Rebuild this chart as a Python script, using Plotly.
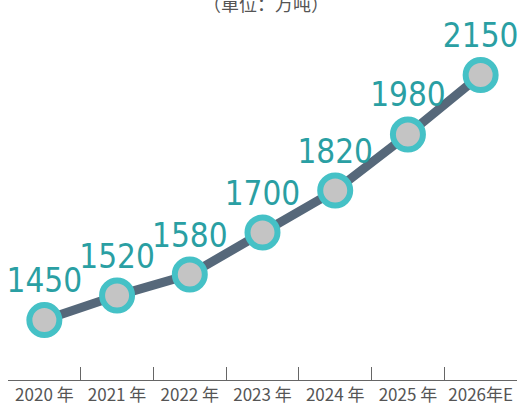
import plotly.graph_objects as go

years = ["2020 年", "2021 年", "2022 年", "2023 年", "2024 年", "2025 年", "2026年E"]
values = [1450, 1520, 1580, 1700, 1820, 1980, 2150]
labels = [str(v) for v in values]

fig = go.Figure()
fig.add_trace(go.Scatter(
    x=years, y=values, mode="lines+markers+text",
    text=labels, textposition="top center",
    textfont=dict(family="DejaVu Sans Condensed, Liberation Sans Narrow, sans-serif", size=33, color="#2a9fa3"),
    line=dict(color="#56687a", width=9),
    marker=dict(size=30, color="#c4c4c4", line=dict(color="#45c1c6", width=6)),
    cliponaxis=False, showlegend=False, hoverinfo="skip",
))

fig.update_layout(
    width=530, height=411,
    margin=dict(l=8, r=13, t=0, b=31, autoexpand=False),
    paper_bgcolor="white", plot_bgcolor="white",
    xaxis=dict(
        type="category", tickson="boundaries", ticks="inside", ticklen=13,
        tickcolor="#666", showline=True, linecolor="#666", linewidth=1,
        showgrid=False, zeroline=False, range=[-0.5, 6.5], automargin=False,
        tickangle=0,
        tickfont=dict(family="Noto Sans CJK SC, sans-serif", size=17, color="#555"),
    ),
    yaxis=dict(visible=False, range=[1279, 2364], automargin=False),
    annotations=[dict(
        text="（單位：万吨）", xref="paper", yref="paper", x=0.507, y=0.992,
        yanchor="middle", showarrow=False,
        font=dict(family="Noto Sans CJK SC, sans-serif", size=18, color="#555"),
    )],
)

fig.write_html(
    "out.html",
    config={"displayModeBar": False},
    post_script="document.body.style.margin='0';document.body.style.overflow='hidden';",
)
